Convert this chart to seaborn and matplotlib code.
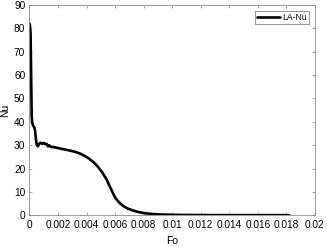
import numpy as np
import pandas as pd
import seaborn as sns
import matplotlib
matplotlib.use("Agg")
import matplotlib.pyplot as plt

# values
fo = [0.0, 0.00003, 0.00008, 0.00012, 0.00016, 0.0002, 0.00025, 0.0003, 0.00035,
      0.0004, 0.00045, 0.0005, 0.00055, 0.0006, 0.0007, 0.0008, 0.0009, 0.001,
      0.0011, 0.0012, 0.0013, 0.0014, 0.0015, 0.0017, 0.002, 0.0023, 0.0027,
      0.003, 0.0033, 0.0036, 0.0039, 0.0042, 0.0045, 0.0048, 0.0051, 0.0054,
      0.0057, 0.006, 0.0063, 0.0066, 0.0069, 0.0072, 0.0076, 0.008, 0.0085,
      0.009, 0.0095, 0.01, 0.011, 0.012, 0.013, 0.014, 0.015, 0.016, 0.017, 0.0182]
nu = [82.0, 81.5, 78.0, 60.0, 42.0, 39.5, 38.5, 38.0, 37.5,
      36.0, 33.0, 30.5, 29.8, 29.6, 30.8, 31.0, 30.6, 31.0,
      30.5, 30.6, 29.5, 29.9, 29.3, 29.2, 28.8, 28.4, 27.9,
      27.5, 27.0, 26.3, 25.3, 24.2, 22.7, 20.8, 18.4, 15.4,
      11.5, 7.6, 5.4, 3.9, 2.9, 2.2, 1.5, 1.0, 0.65,
      0.45, 0.33, 0.25, 0.17, 0.13, 0.11, 0.1, 0.1, 0.1, 0.1, 0.1]

df = pd.DataFrame({"Fo": fo, "Nu": nu})

sns.set_style("ticks")
plt.rcParams["font.family"] = ["Liberation Sans", "DejaVu Sans"]
plt.rcParams["text.color"] = "black"
plt.rcParams["axes.labelcolor"] = "black"

fig = plt.figure(figsize=(3.27, 2.47), dpi=100)
ax = fig.add_axes([0.090, 0.128, 0.873, 0.852])

sns.lineplot(data=df, x="Fo", y="Nu", color="black", linewidth=1.9,
             label="LA-Nu", ax=ax, sort=False)

ax.set_xlim(0, 0.02)
ax.set_ylim(0, 90)
ax.set_xticks(np.arange(0, 0.0201, 0.002))
ax.set_xticklabels(["0", "0.002", "0.004", "0.006", "0.008", "0.01",
                    "0.012", "0.014", "0.016", "0.018", "0.02"])
ax.set_yticks(range(0, 91, 10))
ax.tick_params(direction="in", length=2.5, width=0.5, labelsize=7.3,
               top=True, right=True, color="#888888", labelcolor="black", pad=3)
for s in ax.spines.values():
    s.set_color("#888888")
    s.set_linewidth(0.6)
ax.set_xlabel("Fo", fontsize=7.5, labelpad=5)
ax.set_ylabel("Nu", fontsize=7.5, labelpad=3)

leg = ax.legend(loc="upper right", fontsize=6.2, frameon=True, fancybox=False,
                handlelength=2.6, handletextpad=0.3, borderpad=0.25,
                borderaxespad=0.7)
leg.get_frame().set_edgecolor("#666666")
leg.get_frame().set_linewidth(0.6)

fig.savefig("out.png", dpi=100)
